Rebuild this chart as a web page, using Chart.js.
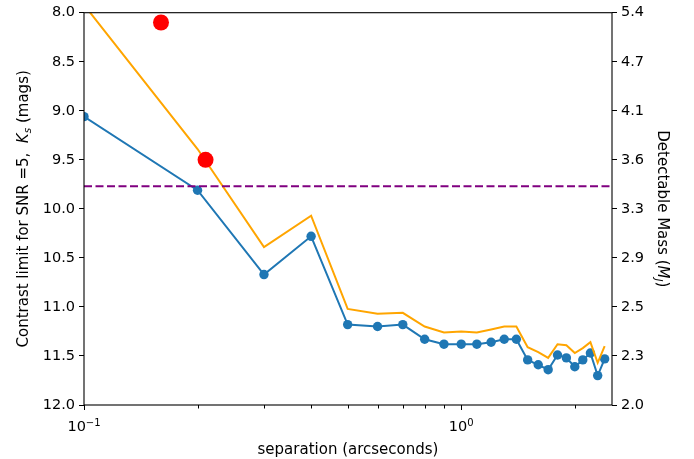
<!DOCTYPE html>
<html>
<head>
<meta charset="utf-8">
<script src="https://cdn.jsdelivr.net/npm/chart.js@4/dist/chart.umd.min.js"></script>
<style>
  html, body { margin: 0; padding: 0; background: #fff; }
  #wrap { width: 694px; height: 459px; }
</style>
</head>
<body>
<div id="wrap"><canvas id="c" width="694" height="459"></canvas></div>
<script>
// Angular separations (arcsec) of the contrast curve samples
const separations = [0.1, 0.2, 0.3, 0.4, 0.5, 0.6, 0.7, 0.8, 0.9, 1.0, 1.1, 1.2,
                     1.3, 1.4, 1.5, 1.6, 1.7, 1.8, 1.9, 2.0, 2.1, 2.2, 2.3, 2.4];
// 5-sigma contrast limit, Ks (mags)
const contrastLimit = [9.06, 9.81, 10.67, 10.28, 11.18, 11.20, 11.18, 11.33, 11.38, 11.38, 11.38, 11.36,
                       11.33, 11.33, 11.54, 11.59, 11.64, 11.49, 11.52, 11.61, 11.54, 11.47, 11.70, 11.53];
// Second limit curve (orange)
const contrastLimitAlt = [7.92, 9.39, 10.39, 10.07, 11.02, 11.07, 11.06, 11.20, 11.26, 11.25, 11.26, 11.23,
                          11.20, 11.20, 11.41, 11.46, 11.52, 11.38, 11.39, 11.47, 11.42, 11.36, 11.57, 11.40];
// Detected companion candidates
const candidateSep = [0.16, 0.21];
const candidateMag = [8.1, 9.5];
// Horizontal reference level (dashed)
const referenceMag = 9.77;

// Axis ticks
const xRange = [0.1, 2.51];
const xTickValues = [0.1, 0.2, 0.3, 0.4, 0.5, 0.6, 0.7, 0.8, 0.9, 1, 2];
const xMajorLabels = { '0.1': ['10', '\u22121'], '1': ['10', '0'] };
const yRange = [8, 12];
const yTickValues = [8.0, 8.5, 9.0, 9.5, 10.0, 10.5, 11.0, 11.5, 12.0];
const massTickLabels = ['5.4', '4.7', '4.1', '3.6', '3.3', '2.9', '2.5', '2.3', '2.0'];

const FONT = 'DejaVu Sans';
const TICK_SIZE = 14.5;
const LABEL_SIZE = 15;
const tickFont = { family: FONT, size: TICK_SIZE };

function pts(xs, ys) { return xs.map((x, i) => ({ x: x, y: ys[i] })); }

// Draw a sequence of differently styled text runs centred on (cx, cy)
function drawRuns(ctx, runs, cx, cy, angle, baseOffset) {
  ctx.save();
  ctx.translate(cx, cy);
  ctx.rotate(angle);
  ctx.textBaseline = 'alphabetic';
  ctx.textAlign = 'left';
  ctx.fillStyle = '#000';
  let total = 0;
  runs.forEach(r => { ctx.font = r.font; r.w = ctx.measureText(r.text).width; total += r.w; });
  let x = -total / 2;
  runs.forEach(r => { ctx.font = r.font; ctx.fillText(r.text, x, baseOffset + (r.dy || 0)); x += r.w; });
  ctx.restore();
}

const framePlugin = {
  id: 'frame',
  afterDraw(chart) {
    const { ctx, chartArea: a, scales } = chart;
    ctx.save();
    // x tick marks: long at decades, short in between, plus power-of-ten labels
    ctx.strokeStyle = '#000';
    ctx.lineWidth = 1;
    scales.x.ticks.forEach(t => {
      const xp = scales.x.getPixelForValue(t.value);
      const px = Math.round(xp) + 0.5;
      const lab = xMajorLabels[String(t.value)];
      const len = lab ? 5 : 3.5;
      ctx.beginPath();
      ctx.moveTo(px, a.bottom);
      ctx.lineTo(px, a.bottom + len);
      ctx.stroke();
      if (lab) {
        drawRuns(ctx, [
          { text: lab[0], font: `${TICK_SIZE}px "${FONT}"` },
          { text: lab[1], font: `10px "${FONT}"`, dy: -5.5 }
        ], xp, a.bottom + 26, 0, 0);
      }
    });
    // axes box
    ctx.lineWidth = 1.1;
    ctx.strokeRect(a.left, a.top, a.right - a.left, a.bottom - a.top);
    ctx.restore();

    // axis titles
    drawRuns(ctx, [{ text: 'separation (arcseconds)', font: `${LABEL_SIZE}px "${FONT}"` }],
      (a.left + a.right) / 2, 454, 0, 0);
    const cy = (a.top + a.bottom) / 2;
    drawRuns(ctx, [
      { text: 'Contrast limit for SNR =5,  ', font: `${LABEL_SIZE}px "${FONT}"` },
      { text: 'K', font: `italic ${LABEL_SIZE}px "${FONT}"` },
      { text: 's', font: `italic 10.5px "${FONT}"`, dy: 3 },
      { text: ' (mags)', font: `${LABEL_SIZE}px "${FONT}"` }
    ], 23, cy, -Math.PI / 2, 5.4);
    drawRuns(ctx, [
      { text: 'Detectable Mass (', font: `${LABEL_SIZE}px "${FONT}"` },
      { text: 'M', font: `italic ${LABEL_SIZE}px "${FONT}"` },
      { text: 'J', font: `italic 10.5px "${FONT}"`, dy: 3 },
      { text: ')', font: `${LABEL_SIZE}px "${FONT}"` }
    ], 663, cy, Math.PI / 2, 5.4);
  }
};

const yTickSetter = s => { s.ticks = yTickValues.map(v => ({ value: v })); };

new Chart(document.getElementById('c'), {
  type: 'scatter',
  data: {
    datasets: [
      {
        data: pts(candidateSep, candidateMag),
        showLine: false,
        pointRadius: 8,
        pointBackgroundColor: '#ff0000',
        pointBorderColor: '#ff0000',
        pointBorderWidth: 0,
        order: 0
      },
      {
        data: pts(xRange, [referenceMag, referenceMag]),
        showLine: true,
        borderColor: '#800080',
        borderWidth: 2,
        borderDash: [8, 3.5],
        pointRadius: 0,
        order: 1
      },
      {
        data: pts(separations, contrastLimitAlt),
        showLine: true,
        borderColor: '#ffa500',
        borderWidth: 2,
        pointRadius: 0,
        order: 2
      },
      {
        data: pts(separations, contrastLimit),
        showLine: true,
        borderColor: '#1f77b4',
        borderWidth: 2,
        pointRadius: 4.7,
        pointBackgroundColor: '#1f77b4',
        pointBorderColor: '#1f77b4',
        pointBorderWidth: 0,
        order: 3
      }
    ]
  },
  options: {
    responsive: false,
    animation: false,
    events: [],
    layout: { padding: { top: 12, left: 0, right: 0, bottom: 0 } },
    plugins: { legend: { display: false }, tooltip: { enabled: false } },
    scales: {
      x: {
        type: 'logarithmic',
        min: xRange[0],
        max: xRange[1],
        afterBuildTicks: s => { s.ticks = xTickValues.map(v => ({ value: v })); },
        afterFit: s => { s.height = 54; },
        grid: { display: false },
        border: { display: false },
        ticks: { autoSkip: false, maxRotation: 0, minRotation: 0, font: tickFont, callback: () => '' }
      },
      y: {
        position: 'left',
        min: yRange[0],
        max: yRange[1],
        reverse: true,
        afterBuildTicks: yTickSetter,
        afterFit: s => { s.width = 84; },
        border: { display: false },
        grid: { drawOnChartArea: false, drawTicks: true, tickLength: 5, tickColor: '#000', tickWidth: 1 },
        ticks: { padding: 4, color: '#000', font: tickFont, callback: v => Number(v).toFixed(1) }
      },
      y2: {
        position: 'right',
        min: yRange[0],
        max: yRange[1],
        reverse: true,
        afterBuildTicks: yTickSetter,
        afterFit: s => { s.width = 82; },
        border: { display: false },
        grid: { drawOnChartArea: false, drawTicks: true, tickLength: 5, tickColor: '#000', tickWidth: 1 },
        ticks: { padding: 4, color: '#000', font: tickFont, callback: (v, i) => massTickLabels[i] }
      }
    }
  },
  plugins: [framePlugin]
});
</script>
</body>
</html>
